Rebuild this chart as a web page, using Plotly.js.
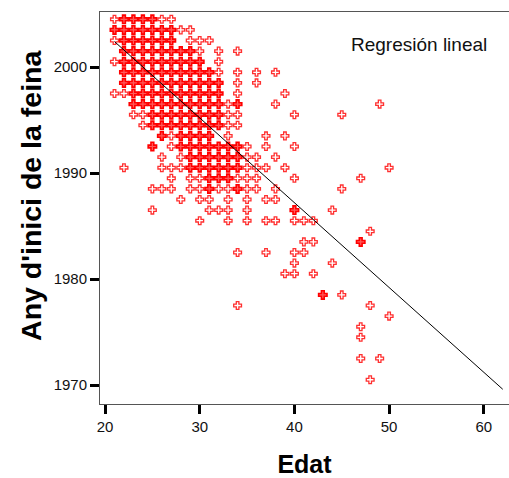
<!DOCTYPE html>
<html>
<head>
<meta charset="utf-8">
<script src="https://cdn.plot.ly/plotly-3.0.1.min.js"></script>
<style>html,body{margin:0;padding:0;background:#fff;}#chart{width:509px;height:478px;}</style>
</head>
<body>
<div id="chart"></div>
<script>
// Rows of the scatter: year value, ages drawn heavy (several cases), ages drawn light (one case)
const anyValues = [2004.5, 2003.5, 2002.5, 2001.5, 2000.5, 1999.5, 1998.5, 1997.5, 1996.5, 1995.5,
  1994.5, 1993.5, 1992.5, 1991.5, 1990.5, 1989.5, 1988.5, 1987.5, 1986.5, 1985.5,
  1984.5, 1983.5, 1982.5, 1981.5, 1980.5, 1978.5, 1977.5, 1976.5, 1975.5, 1974.5, 1972.5, 1970.5];
const edatMulti = [
  [22,23,24,25],
  [21,22,23,24,25,26,27],
  [22,23,24,25,26,27],
  [22,23,24,25,26,27,28,29],
  [22,23,24,25,26,27,28,29,30],
  [22,23,24,25,26,27,28,29,30,31],
  [22,23,24,25,26,27,28,29,30,31,32],
  [23,24,25,26,27,28,29,30,31,32],
  [23,24,25,26,27,28,29,30,31,32,34],
  [25,26,27,28,29,30,31,32],
  [25,26,27,28,29,30,31,32],
  [26,28,29,30,31],
  [25,28,29,30,31,32,33,34],
  [29,30,31,32,33,34],
  [29,30,31,32,33,34],
  [31,32,33],
  [31,34],
  [],
  [40],
  [],
  [],
  [47],
  [],
  [],
  [],
  [43],
  [],
  [],
  [],
  [],
  [],
  []
];
const edatSingle = [
  [21,26,27],
  [28,29],
  [21,29,30,31],
  [30,32,34],
  [21,32],
  [32,34,36,38],
  [34,36],
  [21,22,34,39],
  [33,38,49],
  [23,24,33,34,40,45],
  [24,33,34],
  [27,33,37,39],
  [27,35,37,40],
  [26,28,35,36,38],
  [22,26,27,28,35,36,37,39,50],
  [27,29,30,34,35,36,40,47],
  [25,26,27,29,30,32,33,35,36,38,45],
  [28,30,31,33,35,37,38],
  [25,31,32,33,35,44],
  [30,33,35,37,38,40,41,42],
  [48],
  [41,42],
  [34,37,40,41],
  [40,44],
  [39,40,42],
  [45],
  [34,48],
  [50],
  [47],
  [47],
  [47,49],
  [48]
];
// Regression line (read endpoints)
const lineEdat = [21, 62];
const lineAny = [2002.4, 1969.6];
const xTicks = [20, 30, 40, 50, 60];
const yTicks = [1970, 1980, 1990, 2000];

function flatten(rows) {
  const x = [], y = [];
  rows.forEach((ages, i) => ages.forEach(a => { x.push(a); y.push(anyValues[i]); }));
  return {x, y};
}
const multi = flatten(edatMulti);
const single = flatten(edatSingle);

const traces = [
  {x: single.x, y: single.y, type: 'scatter', mode: 'markers', hoverinfo: 'x+y',
   marker: {symbol: 'cross', size: 6.5, color: '#ffffff', line: {color: '#ff3030', width: 1.3}}},
  {x: multi.x, y: multi.y, type: 'scatter', mode: 'markers', hoverinfo: 'x+y',
   marker: {symbol: 'cross', size: 7, color: '#ff5a5a', line: {color: '#ff0000', width: 1.6}}},
  {x: lineEdat, y: lineAny, type: 'scatter', mode: 'lines', hoverinfo: 'skip',
   line: {color: '#000000', width: 1}}
];

const layout = {
  width: 509, height: 478,
  margin: {l: 100, r: 0, t: 12, b: 74, pad: 0},
  paper_bgcolor: '#ffffff', plot_bgcolor: '#ffffff',
  showlegend: false,
  font: {family: 'Liberation Sans, Arial, sans-serif', color: '#000000', size: 15},
  xaxis: {
    range: [19.47, 62.66], tickvals: xTicks, ticktext: xTicks.map(String),
    ticks: 'outside', ticklen: 9, tickwidth: 3, tickcolor: '#000000',
    showline: true, linecolor: '#555555', linewidth: 1, mirror: true,
    showgrid: false, zeroline: false,
    tickfont: {size: 15, color: '#111111'},
    title: {text: '<b>Edat</b>', font: {size: 25, color: '#000000'}, standoff: 24}
  },
  yaxis: {
    range: [1968.21, 2005.19], tickvals: yTicks, ticktext: yTicks.map(String),
    ticks: 'outside', ticklen: 9, tickwidth: 3, tickcolor: '#000000',
    showline: true, linecolor: '#555555', linewidth: 1,
    showgrid: false, zeroline: false,
    tickfont: {size: 15, color: '#111111'}
  },
  annotations: [{
    text: 'Regresión lineal', xref: 'paper', yref: 'paper', x: 0.61, y: 0.918,
    xanchor: 'left', yanchor: 'middle', showarrow: false,
    font: {size: 19, color: '#111111'}
  }, {
    text: "<b>Any d'inici de la feina</b>", xref: 'paper', yref: 'paper',
    x: -0.169, y: 0.533, xanchor: 'center', yanchor: 'middle', textangle: -90,
    showarrow: false, font: {size: 28.5, color: '#000000'}
  }]
};

Plotly.newPlot('chart', traces, layout, {staticPlot: true, displayModeBar: false});
</script>
</body>
</html>
